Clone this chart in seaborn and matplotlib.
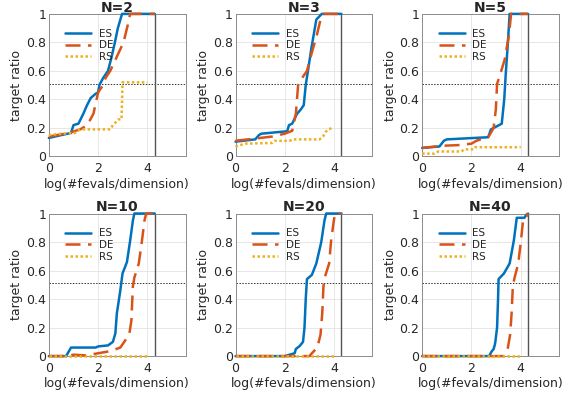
import numpy as np
import pandas as pd
import matplotlib
matplotlib.use('Agg')
import matplotlib.pyplot as plt
import seaborn as sns

# dimensions shown in the six panels
dims = [2, 3, 5, 10, 20, 40]
methods = ['ES', 'DE', 'RS']

# curves: (log10(#fevals/dim), target ratio)
es_2 = [(0, 0.13), (0.5, 0.15), (0.9, 0.165), (1.0, 0.22), (1.2, 0.23), (1.4, 0.3), (1.55, 0.36),
        (1.7, 0.41), (1.9, 0.44), (2.0, 0.45), (2.05, 0.5), (2.2, 0.55), (2.4, 0.6), (2.55, 0.7),
        (2.68, 0.8), (2.8, 0.9), (2.97, 1.0), (4.3, 1.0)]
de_2 = [(0, 0.14), (0.5, 0.155), (0.9, 0.17), (1.27, 0.19), (1.56, 0.22), (1.81, 0.3), (2.0, 0.45),
        (2.2, 0.5), (2.3, 0.55), (2.49, 0.6), (2.76, 0.7), (3.03, 0.8), (3.2, 0.92), (3.3, 1.0), (4.3, 1.0)]
rs_2 = [(0, 0.15), (0.5, 0.16), (1.06, 0.165), (1.27, 0.19), (2.49, 0.19), (2.6, 0.22), (2.83, 0.26),
        (2.95, 0.26), (2.99, 0.52), (4.0, 0.52)]

es_3 = [(0, 0.104), (0.8, 0.12), (0.95, 0.15), (1.05, 0.16), (2.1, 0.177), (2.17, 0.22), (2.3, 0.23),
        (2.41, 0.27), (2.5, 0.3), (2.65, 0.33), (2.77, 0.36), (2.85, 0.5), (2.94, 0.6), (3.08, 0.76),
        (3.28, 0.96), (3.5, 1.0), (4.3, 1.0)]
de_3 = [(0, 0.11), (1.0, 0.13), (1.5, 0.14), (2.0, 0.16), (2.3, 0.18), (2.45, 0.3), (2.54, 0.5),
        (2.74, 0.56), (2.9, 0.6), (3.1, 0.73), (3.3, 0.85), (3.45, 0.96), (3.55, 1.0), (4.3, 1.0)]
rs_3 = [(0, 0.07), (0.4, 0.09), (1.5, 0.095), (1.6, 0.11), (2.2, 0.11), (2.3, 0.12), (3.41, 0.12),
        (3.55, 0.14), (3.65, 0.17), (3.75, 0.19), (3.95, 0.2)]

es_5 = [(0, 0.06), (0.7, 0.07), (0.88, 0.11), (1.0, 0.12), (2.68, 0.135), (2.79, 0.19), (3.23, 0.23),
        (3.33, 0.4), (3.4, 0.6), (3.48, 0.8), (3.55, 1.0), (4.3, 1.0)]
de_5 = [(0, 0.06), (0.8, 0.075), (1.5, 0.08), (2.0, 0.09), (2.2, 0.11), (2.7, 0.14), (2.9, 0.2),
        (2.99, 0.33), (3.04, 0.51), (3.12, 0.55), (3.35, 0.68), (3.52, 0.85), (3.61, 1.0), (4.3, 1.0)]
rs_5 = [(0, 0.02), (0.5, 0.02), (0.65, 0.035), (1.6, 0.035), (1.7, 0.05), (2.1, 0.05), (2.15, 0.065),
        (4.0, 0.065)]

es_10 = [(0, 0.0), (0.7, 0.0), (0.9, 0.06), (1.9, 0.06), (2.0, 0.068), (2.4, 0.075), (2.6, 0.1),
         (2.7, 0.16), (2.76, 0.3), (2.9, 0.46), (2.99, 0.58), (3.17, 0.66), (3.3, 0.81), (3.41, 0.95),
         (3.47, 1.0), (4.3, 1.0)]
de_10 = [(0, 0.0), (0.7, 0.0), (1.0, 0.01), (1.5, 0.005), (2.0, 0.02), (2.5, 0.035), (2.9, 0.06),
         (3.1, 0.11), (3.27, 0.16), (3.35, 0.25), (3.41, 0.49), (3.47, 0.55), (3.65, 0.65), (3.78, 0.81),
         (3.88, 0.95), (3.95, 1.0), (4.3, 1.0)]
rs_10 = [(0, 0.0), (4.0, 0.0)]

es_20 = [(0, 0.0), (2.0, 0.0), (2.2, 0.01), (2.4, 0.02), (2.45, 0.05), (2.6, 0.07), (2.74, 0.1),
         (2.8, 0.2), (2.85, 0.4), (2.9, 0.54), (3.1, 0.57), (3.28, 0.65), (3.48, 0.8), (3.61, 0.95),
         (3.68, 1.0), (4.3, 1.0)]
de_20 = [(0, 0.0), (3.0, 0.0), (3.1, 0.02), (3.32, 0.06), (3.45, 0.15), (3.52, 0.3), (3.57, 0.49),
         (3.62, 0.55), (3.8, 0.65), (3.88, 0.81), (3.99, 0.95), (4.04, 1.0), (4.3, 1.0)]
rs_20 = [(0, 0.0), (4.0, 0.0)]

es_40 = [(0, 0.0), (2.72, 0.0), (2.81, 0.03), (2.9, 0.05), (2.95, 0.08), (2.97, 0.1), (3.04, 0.2),
         (3.08, 0.4), (3.1, 0.54), (3.32, 0.58), (3.55, 0.65), (3.72, 0.81), (3.84, 0.97), (4.15, 0.97),
         (4.22, 0.99), (4.3, 1.0)]
de_40 = [(0, 0.0), (3.32, 0.0), (3.4, 0.03), (3.48, 0.06), (3.57, 0.15), (3.63, 0.3), (3.68, 0.49),
         (3.75, 0.55), (3.9, 0.65), (4.01, 0.81), (4.1, 0.96), (4.2, 0.97), (4.3, 1.0)]
rs_40 = [(0, 0.0), (4.0, 0.0)]

curves = {
    2: [es_2, de_2, rs_2],
    3: [es_3, de_3, rs_3],
    5: [es_5, de_5, rs_5],
    10: [es_10, de_10, rs_10],
    20: [es_20, de_20, rs_20],
    40: [es_40, de_40, rs_40],
}

budget_line = 4.3
half_line = 0.51

colors = {'ES': '#0072BD', 'DE': '#D95319', 'RS': '#EDB120'}
styles = {'ES': '-', 'DE': (0, (6, 3)), 'RS': (0, (1, 1))}

sns.set_style('white')
plt.rcParams['font.family'] = ['DejaVu Sans']
plt.rcParams['font.size'] = 9

fig, axes = plt.subplots(2, 3, figsize=(5.68, 3.97), dpi=100)
fig.subplots_adjust(left=0.086, right=0.984, top=0.965, bottom=0.103, wspace=0.365, hspace=0.40)

for ax, n in zip(axes.flat, dims):
    for m, pts in zip(methods, curves[n]):
        df = pd.DataFrame(pts, columns=['x', 'y'])
        sns.lineplot(data=df, x='x', y='y', ax=ax, sort=False, estimator=None,
                     color=colors[m], linestyle=styles[m], linewidth=1.8, label=m,
                     clip_on=False, zorder=3)
    ax.axhline(half_line, color='#333333', linestyle=(0, (1.5, 1.5)), linewidth=0.7)
    ax.axvline(budget_line, color='#555555', linewidth=1.0)
    ax.set_xlim(0, 5.55)
    ax.set_ylim(0, 1)
    ax.set_xticks([0, 2, 4])
    ax.set_yticks([0, 0.2, 0.4, 0.6, 0.8, 1])
    ax.set_yticklabels(['0', '0.2', '0.4', '0.6', '0.8', '1'])
    ax.grid(True, color='#e3e3e3', linewidth=0.6)
    ax.set_axisbelow(True)
    for s in ax.spines.values():
        s.set_color('#8c8c8c')
        s.set_linewidth(0.7)
        s.set_zorder(2)
    ax.tick_params(direction='in', length=2.5, color='#8c8c8c', labelcolor='#262626', labelsize=9)
    ax.tick_params(axis='x', pad=4)
    ax.tick_params(axis='y', pad=2)
    ax.set_xlabel('log(#fevals/dimension)', fontsize=9, color='#262626', labelpad=2)
    ax.set_ylabel('target ratio', fontsize=9, color='#262626', labelpad=2)
    ax.set_title(f'N={n}', fontsize=10, fontweight='bold', pad=1.5)
    ax.legend(loc='upper left', bbox_to_anchor=(0.09, 0.925), frameon=False, fontsize=7.5,
              handlelength=2.5, handletextpad=0.75, labelspacing=0.15, borderaxespad=0)

fig.savefig('out.png', dpi=100)
